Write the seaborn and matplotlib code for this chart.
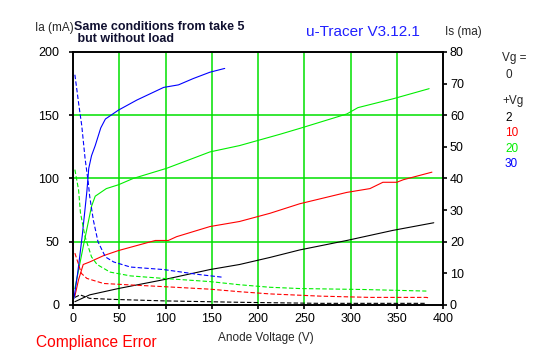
import numpy as np
import pandas as pd
import matplotlib
matplotlib.use("Agg")
import matplotlib.pyplot as plt
import seaborn as sns

# Anode current Ia (mA) vs anode voltage, one series per grid voltage
va_2 = [2, 18, 49, 98, 148, 180, 213, 245, 296, 346, 390]
ia_2 = [2.6, 8, 13, 20, 28, 32, 37.6, 43.5, 51, 59, 65]

va_10 = [2, 6, 11, 18, 33, 49, 69, 89, 103, 112, 148, 180, 213, 245, 296, 321, 335, 350, 357, 388]
ia_10 = [7, 20, 32, 34, 39, 43, 47, 51, 51, 54, 62, 66, 72.5, 80, 89, 92, 97, 97, 99, 105]

va_20 = [2, 11, 20, 24, 36, 49, 65, 101, 130, 148, 180, 224, 247, 296, 308, 346, 385]
ia_20 = [13, 46, 78, 86, 92, 95, 100, 108, 116, 121, 126, 135, 140, 151, 156, 163, 171]

va_30 = [1, 5, 10, 15, 17, 20, 24, 30, 35, 49, 69, 98, 114, 130, 148, 164]
ia_30 = [5, 25, 55, 90, 108, 118, 126, 140, 147, 154, 162, 172, 174, 179, 184, 187]

# Screen current Is (mA), right axis
vs_2 = [2, 7.6, 18, 40, 98, 180, 213, 267, 382]
is_2 = [2.4, 3.2, 2.1, 1.8, 1.3, 0.85, 0.72, 0.52, 0.52]

vs_10 = [2, 6, 9, 15, 33, 58, 98, 148, 180, 213, 267, 321, 382, 385]
is_10 = [16.4, 12.8, 10.0, 8.4, 6.8, 6.4, 5.8, 5.0, 4.2, 3.5, 2.8, 2.4, 2.4, 2.2]

vs_20 = [2, 6, 8, 13, 20, 26, 40, 62, 98, 148, 180, 213, 245, 313, 382]
is_20 = [42.8, 36.4, 29.2, 21.6, 15.2, 12.8, 10.4, 9.2, 8.4, 7.4, 6.4, 5.6, 5.2, 4.9, 4.4]

vs_30 = [2, 4, 6.5, 9.4, 13, 16.6, 18, 22, 27, 35, 44, 62, 98, 137, 161]
is_30 = [72.8, 68.4, 62.8, 56.8, 46.4, 38.4, 34.4, 26.8, 20, 15.2, 13.6, 12, 11.2, 9.6, 8.8]

grid_labels = ["2", "10", "20", "30"]
colors = ["#000000", "#ff0000", "#00ee00", "#0000ff"]

anode = [(va_2, ia_2), (va_10, ia_10), (va_20, ia_20), (va_30, ia_30)]
screen = [(vs_2, is_2), (vs_10, is_10), (vs_20, is_20), (vs_30, is_30)]

sns.set_style("white")
plt.rcParams["font.family"] = ["Liberation Sans", "DejaVu Sans"]

fig = plt.figure(figsize=(5.47, 3.57), dpi=100)
ax = fig.add_axes([0.1335, 0.1457, 0.6764, 0.7087])
ax2 = ax.twinx()

grid_green = "#00e000"
for v in range(50, 400, 50):
    ax.axvline(v, color=grid_green, lw=1.1, zorder=0)
for h in (50, 100, 150):
    ax.axhline(h, color=grid_green, lw=1.1, zorder=0)

for (x, y), c in zip(anode, colors):
    df = pd.DataFrame({"V": x, "I": y})
    sns.lineplot(data=df, x="V", y="I", ax=ax, color=c, lw=0.8, estimator=None, sort=False)

for (x, y), c in zip(screen, colors):
    df = pd.DataFrame({"V": x, "I": y})
    sns.lineplot(data=df, x="V", y="I", ax=ax2, color=c, lw=0.8, estimator=None, sort=False,
                 linestyle=(0, (4, 2)))

ax.set_xlim(0, 400)
ax.set_ylim(0, 200)
ax2.set_ylim(0, 80)
ax.set_xticks(range(0, 401, 50))
ax.set_yticks(range(0, 201, 50))
ax2.set_yticks(range(0, 81, 10))
ax.set_xlabel("")
ax.set_ylabel("")
ax2.set_ylabel("")

for a in (ax, ax2):
    for s in a.spines.values():
        s.set_color("black")
        s.set_linewidth(1.2)
    a.tick_params(direction="out", length=3, width=1.2, colors="black", labelsize=9, pad=2)
ax.tick_params(axis="y", left=True, right=False, pad=7)
ax.tick_params(axis="x", bottom=True, pad=3)
ax2.tick_params(axis="y", right=True)

fig.text(35 / 547, 1 - 28 / 357, "Ia (mA)", fontsize=8.5, va="center", ha="left")
fig.text(445 / 547, 1 - 32 / 357, "Is (ma)", fontsize=8.5, va="center", ha="left")
fig.text(74 / 547, 1 - 33 / 357, "Same conditions from take 5\n but without load", fontsize=9,
         fontweight="bold", va="center", ha="left", color="#101030", linespacing=1.05)
fig.text(306 / 547, 1 - 32 / 357, "u-Tracer V3.12.1", fontsize=11, color="#2020ff",
         va="center", ha="left")
fig.text(218 / 547, 1 - 338 / 357, "Anode Voltage (V)", fontsize=8.5, va="center", ha="left")
fig.text(36 / 547, 1 - 342 / 357, "Compliance Error", fontsize=11.2, color="#ff0000",
         va="center", ha="left")

# Vg legend on the right
fig.text(502 / 547, 1 - 58 / 357, "Vg =", fontsize=8.5, va="center", ha="left")
fig.text(505 / 547, 1 - 75 / 357, "0", fontsize=8.5, va="center", ha="left")
fig.text(502 / 547, 1 - 101 / 357, "+Vg", fontsize=8.5, va="center", ha="left")
for i, (lab, c) in enumerate(zip(grid_labels, colors)):
    fig.text(505 / 547, 1 - (118 + i * 15.5) / 357, lab, fontsize=8.5, color=c,
             va="center", ha="left")

fig.savefig("out.png", dpi=100)
